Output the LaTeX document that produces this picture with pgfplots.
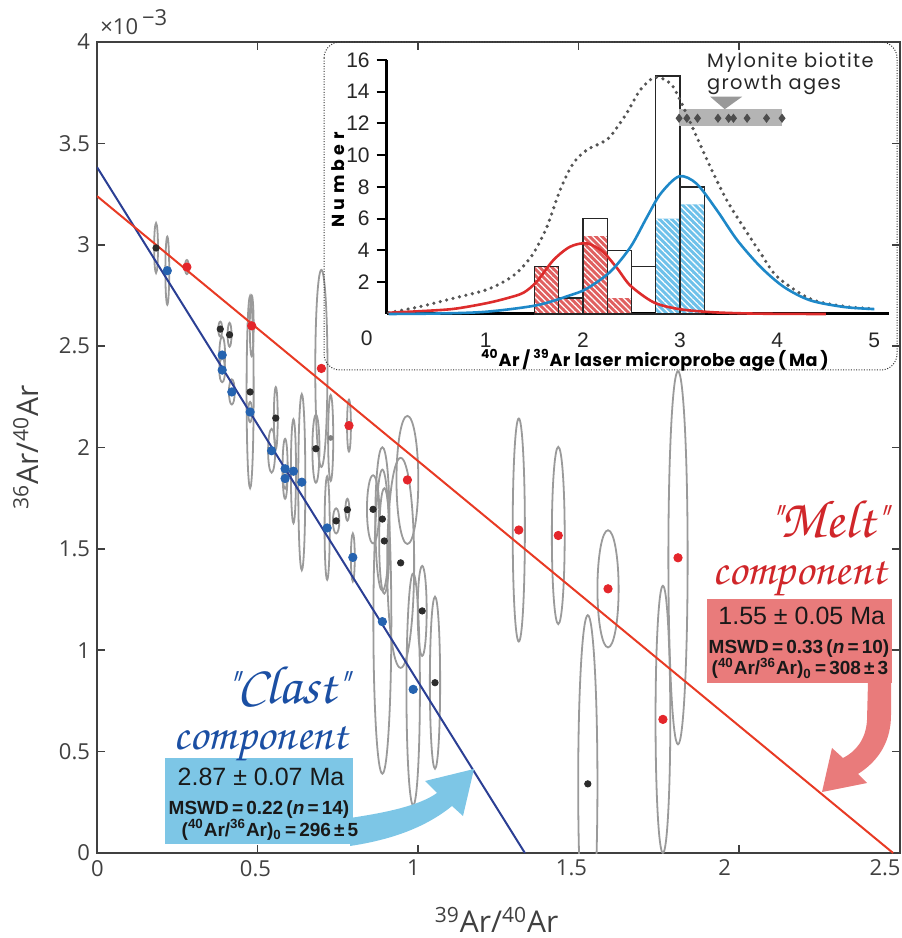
\documentclass[border=0pt]{standalone}
\usepackage[T1]{fontenc}
\usepackage{fontspec}
\usepackage{pgfplots}
\pgfplotsset{compat=1.18}
\usetikzlibrary{patterns.meta}
\setmainfont{Open Sans}
\newfontfamily\arial{Liberation Sans}
\newfontfamily\geo[LetterSpace=7]{Poppins}
\newfontfamily\geoax[LetterSpace=2]{Poppins}
\newfontfamily\geonum[LetterSpace=25]{Poppins}
\newcommand\chan{\fontencoding{T1}\fontfamily{pzc}\fontseries{mb}\fontshape{it}\selectfont}

\definecolor{axgray}{HTML}{404040}
\definecolor{blueline}{HTML}{2B3F94}
\definecolor{redline}{HTML}{E83A24}
\definecolor{bluept}{HTML}{2563B0}
\definecolor{redpt}{HTML}{E4262B}
\definecolor{blackpt}{HTML}{2B2B2B}
\definecolor{ellgray}{HTML}{9A9A9A}
\definecolor{clastbox}{HTML}{7DC6E6}
\definecolor{meltbox}{HTML}{E97B7B}
\definecolor{clasttext}{HTML}{1B4FA3}
\definecolor{melttext}{HTML}{D0262A}
\definecolor{redfill}{HTML}{E06060}
\definecolor{bluefill}{HTML}{6EC1EA}
\definecolor{redcurve}{HTML}{DD2C2C}
\definecolor{bluecurve}{HTML}{1E88C8}
\definecolor{dotgray}{HTML}{555555}
\definecolor{bandgray}{HTML}{B4B4B4}
\definecolor{diagray}{HTML}{4D4D4D}

\pgfdeclareplotmark{blank}{}

\begin{document}
\begin{tikzpicture}
% ---------------- main isochron ----------------
\begin{axis}[
    at={(0,0)}, anchor=south west,
    scale only axis, width=401.25pt, height=405.5pt,
    xmin=0, xmax=2.5, ymin=0, ymax=4,
    xtick={0,0.5,1,1.5,2,2.5}, xticklabels={},
    extra x ticks={0.0015,0.4937,0.986,1.478,1.955,2.455},
    extra x tick labels={0,0.5,1,1.5,2,2.5},
    extra x tick style={major tick length=0pt},
    ytick={0,0.5,1,1.5,2,2.5,3,3.5,4},
    axis line style={draw=axgray, line width=1pt},
    tick style={draw=axgray, line width=0.8pt},
    major tick length=4pt,
    tick align=inside,
    ticklabel style={font=\fontsize{11}{13}\selectfont, text=axgray},
    /pgf/number format/assume math mode=true,
    xlabel={\textsuperscript{39}Ar/\textsuperscript{40}Ar},
    ylabel={\textsuperscript{36}Ar/\textsuperscript{40}Ar},
    xlabel style={font=\fontsize{15}{17}\selectfont, text=axgray,
        at={(axis description cs:0.498,-0.0826)}, anchor=center},
    ylabel style={font=\fontsize{15}{17}\selectfont, text=axgray,
        at={(axis description cs:-0.0885,0.5)}, anchor=center},
    clip marker paths=true,
]
% error ellipses
\addplot[only marks, scatter, mark=blank, color=ellgray, line width=0.9pt,
    visualization depends on={value \thisrow{rx} \as \ellrx},
    visualization depends on={value \thisrow{ry} \as \ellry},
    scatter/@pre marker code/.code={%
        \pgfmathsetlengthmacro\erx{160.5pt*\ellrx}%
        \pgfmathsetlengthmacro\ery{101.375pt*\ellry}%
        \pgfpathellipse{\pgfpointorigin}{\pgfpoint{\erx}{0pt}}{\pgfpoint{0pt}{\ery}}%
        \pgfusepath{stroke}},
    scatter/@post marker code/.code={}]
    table[x=x, y=y] {
x y rx ry
0.184 2.984 0.006 0.123
0.219 2.872 0.006 0.168
0.280 2.890 0.006 0.035
0.384 2.584 0.006 0.037
0.413 2.556 0.006 0.059
0.482 2.600 0.006 0.150
0.477 2.274 0.011 0.474
0.390 2.456 0.009 0.091
0.390 2.382 0.009 0.060
0.420 2.274 0.009 0.062
0.477 2.175 0.006 0.050
0.557 2.145 0.006 0.153
0.699 2.390 0.019 0.486
0.682 1.994 0.011 0.168
0.728 2.047 0.008 0.212
0.785 2.108 0.006 0.128
0.544 1.984 0.011 0.108
0.586 1.895 0.008 0.148
0.612 1.883 0.008 0.256
0.586 1.847 0.006 0.050
0.638 1.829 0.011 0.434
0.745 1.638 0.010 0.062
0.780 1.693 0.006 0.054
0.717 1.603 0.008 0.255
0.797 1.458 0.006 0.118
0.860 1.695 0.019 0.168
0.889 1.647 0.022 0.354
0.895 1.539 0.016 0.260
0.967 1.840 0.034 0.316
0.946 1.431 0.042 0.518
0.889 1.141 0.028 0.750
0.985 0.807 0.021 0.572
1.013 1.194 0.014 0.222
1.053 0.840 0.016 0.424
1.314 1.593 0.019 0.550
1.437 1.566 0.020 0.437
1.592 1.303 0.033 0.289
1.529 0.341 0.030 0.832
1.763 0.659 0.023 0.659
1.810 1.456 0.030 0.920
};
% isochron lines
\addplot[blueline, line width=1pt] coordinates {(0,3.383) (1.333,0)};
\addplot[redline, line width=1pt] coordinates {(0,3.24) (2.48,0)};
% analyses
\addplot[only marks, mark=*, mark size=2.1pt, color=bluept] coordinates {
    (0.219,2.872) (0.390,2.456) (0.390,2.382) (0.420,2.274) (0.477,2.175)
    (0.544,1.984) (0.586,1.895) (0.612,1.883) (0.586,1.847) (0.638,1.829)
    (0.717,1.603) (0.797,1.458) (0.889,1.141) (0.985,0.807)};
\addplot[only marks, mark=*, mark size=2.1pt, color=redpt] coordinates {
    (0.280,2.890) (0.482,2.600) (0.699,2.390) (0.785,2.108) (0.967,1.840)
    (1.314,1.593) (1.437,1.566) (1.592,1.303) (1.763,0.659) (1.810,1.456)};
\addplot[only marks, mark=*, mark size=1.6pt, color=blackpt] coordinates {
    (0.184,2.984) (0.384,2.584) (0.413,2.556) (0.477,2.274) (0.557,2.145)
    (0.682,1.994) (0.745,1.638) (0.780,1.693) (0.860,1.695) (0.889,1.647)
    (0.895,1.539) (0.946,1.431) (1.013,1.194) (1.053,0.840) (1.529,0.341)};
\addplot[only marks, mark=*, mark size=1.2pt, color=gray] coordinates {(0.728,2.047)};
\end{axis}

% ---------------- inset histogram ----------------
\begin{axis}[
    at={(144.85pt,269.5pt)}, anchor=south west,
    scale only axis, width=251.1pt, height=127pt,
    xmin=-0.02, xmax=5.15, ymin=0, ymax=16,
    axis x line=bottom, axis y line=left,
    axis line style={line width=1.5pt, black, -},
    xtick={1,2,3,4,5}, ytick={2,4,6,8,10,12,14,16},
    x tick style={draw=none},
    y tick style={line width=1pt, black},
    tick align=outside, major tick length=5pt,
    ticklabel style={font=\arial\fontsize{10.5}{12}\selectfont, text=black!85},
    xticklabel style={yshift=-1pt},
    /pgf/number format/assume math mode=true,
    clip=false,
]
\addplot[ybar interval, fill=redfill, draw=none,
    postaction={pattern={Lines[angle=-45, distance=2.2pt, line width=0.6pt]}, pattern color=white}]
    coordinates {(1.5,3) (1.75,1) (2,4.9) (2.25,1) (2.5,0)};
\addplot[ybar interval, fill=bluefill, draw=none,
    postaction={pattern={Lines[angle=-45, distance=2.2pt, line width=0.6pt]}, pattern color=white}]
    coordinates {(2.75,6) (3,6.9) (3.25,0)};
\addplot[ybar interval, fill=none, draw=black!85, line width=0.7pt]
    coordinates {(1.5,3) (1.75,1) (2,6) (2.25,4) (2.5,3) (2.75,15) (3,8) (3.25,0)};
% mylonite band
\addplot[fill=bandgray, draw=none] coordinates {(2.99,11.86) (4.05,11.86) (4.05,12.9) (2.99,12.9)} --cycle;
\addplot[fill=bandgray!85!black, draw=none] coordinates {(3.31,13.69) (3.64,13.69) (3.46,12.9)} --cycle;
% probability curves
\addplot[dotgray, line width=1.8pt, line cap=round, dash pattern=on 0pt off 3.3pt, smooth] coordinates {
    (0,0.08) (0.32,0.46) (0.667,0.99) (1.0,1.51) (1.216,2.14) (1.35,2.77) (1.49,3.82)
    (1.63,5.5) (1.765,7.81) (1.90,9.49) (2.04,10.33) (2.18,10.75) (2.28,11.17) (2.45,12.64)
    (2.59,14.11) (2.74,14.91) (2.90,14.53) (3.0,13.48) (3.14,11.59) (3.31,9.28) (3.48,7.18)
    (3.65,5.5) (3.83,3.82) (4.0,2.35) (4.34,0.95) (4.69,0.48) (5.0,0.33)};
\addplot[redcurve, line width=1.3pt, smooth] coordinates {
    (0,0.08) (0.33,0.18) (0.667,0.32) (1.0,0.67) (1.216,0.99) (1.388,1.34) (1.525,2.04)
    (1.697,3.40) (1.869,4.24) (2.04,4.45) (2.2,3.95) (2.35,2.9) (2.49,1.78) (2.73,0.73)
    (2.99,0.31) (3.31,0.12) (3.65,0.04) (4.0,0.01) (4.5,0)};
\addplot[bluecurve, line width=1.3pt, smooth] coordinates {
    (0,0) (0.5,0.03) (1.0,0.14) (1.525,0.55) (1.869,1.18) (2.04,1.6) (2.28,2.65)
    (2.49,4.22) (2.66,6.11) (2.80,7.58) (2.99,8.67) (3.17,8.21) (3.38,6.53) (3.59,4.64)
    (3.83,2.96) (4.07,1.7) (4.34,0.86) (4.69,0.44) (5.0,0.31)};
\addplot[only marks, mark=diamond*, mark size=2pt, color=diagray] coordinates {
    (2.99,12.33) (3.07,12.33) (3.18,12.33) (3.39,12.33) (3.50,12.33)
    (3.55,12.33) (3.69,12.33) (3.89,12.33) (4.05,12.33)};
\end{axis}

% ---------------- annotations (pixel frame) ----------------
\begin{scope}[x=0.5pt, y=-0.5pt, shift={(-48.5pt,426.5pt)}]
% x10^-3
\node[anchor=base west, inner sep=0, text=axgray, font=\fontsize{11}{13}\selectfont]
    at (100,35) {×10\hspace{2pt}\raisebox{4.5pt}{−3}};
% inset frame
\draw[black!80, line width=0.5pt, dash pattern=on 0.5pt off 0.8pt, rounded corners=8pt]
    (324,42) rectangle (897,370);
\node[inner sep=0, font=\arial\fontsize{10.5}{12}\selectfont, text=black!85] at (366.7,338) {0};
\node[rotate=90, inner sep=0, font=\geonum\bfseries\fontsize{8.7}{10}\selectfont] at (338,180) {Number};
\node[anchor=base, inner sep=0, font=\geoax\bfseries\fontsize{8.8}{10}\selectfont] at (655,366.5)
    {\textsuperscript{40}Ar\,/\,\textsuperscript{39}Ar laser microprobe age\,(\,Ma\,)};
\node[anchor=base west, inner sep=0, font=\geo\fontsize{9.7}{11}\selectfont, text=black!85] at (706.7,67.3) {Mylonite biotite};
\node[anchor=base west, inner sep=0, font=\geo\fontsize{9.7}{11}\selectfont, text=black!85] at (706.7,90) {growth ages};

% Clast component
\fill[clastbox] (165,758) rectangle (352.7,844);
\fill[clastbox] (350,818) .. controls (390,812) and (420,805) .. (437,793) -- (425,781)
    -- (474,769) -- (463,816) -- (452,806) .. controls (425,828) and (390,840) .. (350,846) -- cycle;
\node[anchor=base east, inner sep=0, text depth=0pt, text=clasttext, font=\chan\fontsize{27}{30}\selectfont] at (348,704) {"Clast"};
\node[anchor=base east, inner sep=0, text height=8pt, text depth=3pt, text=clasttext, font=\chan\fontsize{23}{26}\selectfont] at (348,749.5) {component};
\node[anchor=base, inner sep=0, text depth=0pt, text=black!90, font=\arial\fontsize{12.5}{14}\selectfont] at (261,785) {2.87 ± 0.07 Ma};
\node[anchor=base, inner sep=0, text depth=0pt, text height=6.5pt, text=black!90, font=\arial\bfseries\fontsize{9.5}{11}\selectfont] at (259,814.5)
    {MSWD\,=\,0.22\,(\textit{n}\,=\,14)};
\node[anchor=base, inner sep=0, text height=6.5pt, text=black!90, font=\arial\bfseries\fontsize{9.5}{11}\selectfont] at (270,836.5)
    {(\textsuperscript{40}Ar/\textsuperscript{36}Ar)\textsubscript{0}\,=\,296\,±\,5};

% Melt component
\fill[meltbox] (706.7,599.3) rectangle (891.7,682.7);
\fill[meltbox] (868,682) -- (867,720) .. controls (866,740) and (855,752) .. (843,758) -- (832,748)
    -- (822,792) -- (867,783) -- (858,774) .. controls (880,760) and (891,740) .. (891,715) -- (891,682) -- cycle;
\node[anchor=base east, inner sep=0, text depth=0pt, text=melttext, font=\chan\fontsize{27}{30}\selectfont] at (886.7,538) {"Melt"};
\node[anchor=base east, inner sep=0, text height=8pt, text depth=3pt, text=melttext, font=\chan\fontsize{23}{26}\selectfont] at (886.7,585) {component};
\node[anchor=base, inner sep=0, text depth=0pt, text=black!90, font=\arial\fontsize{12.5}{14}\selectfont] at (801.7,625) {1.55 ± 0.05 Ma};
\node[anchor=base, inner sep=0, text depth=0pt, text height=6.5pt, text=black!90, font=\arial\bfseries\fontsize{9.5}{11}\selectfont] at (799,653.5)
    {MSWD\,=\,0.33\,(\textit{n}\,=\,10)};
\node[anchor=base, inner sep=0, text height=6.5pt, text=black!90, font=\arial\bfseries\fontsize{9.5}{11}\selectfont] at (800,675)
    {(\textsuperscript{40}Ar/\textsuperscript{36}Ar)\textsubscript{0}\,=\,308\,±\,3};

\pgfresetboundingbox
\useasboundingbox (0,0) rectangle (901,938);
\end{scope}
\end{tikzpicture}
\end{document}
